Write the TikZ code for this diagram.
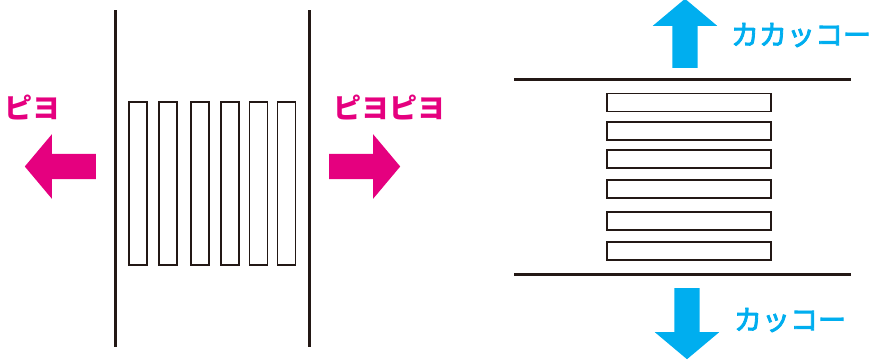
\documentclass[tikz,border=0pt]{standalone}
\usepackage{fontspec}
\newfontfamily\jpfont{Noto Sans CJK JP}
\newfontfamily\jpmid[FakeBold=3]{Noto Sans CJK JP}
\usetikzlibrary{shapes.arrows}
\definecolor{piyo}{HTML}{E5007F}
\definecolor{kakko}{HTML}{00AEEF}
\definecolor{ink}{HTML}{231815}

\begin{document}
\begin{tikzpicture}[x=1pt,y=-1pt,
  wall/.style={ink,line width=3pt},
  slat/.style={draw=ink,line width=1.3pt,fill=white,inner sep=0pt},
  blockarrow/.style={single arrow,draw=none,inner xsep=0pt,inner ysep=12.5pt,anchor=tail,
    minimum height=71pt,
    single arrow head extend=19.5pt,single arrow tip angle=100},
  uparrow/.style={blockarrow,inner xsep=12.5pt,inner ysep=0pt},
  piyotext/.style={text=piyo,inner sep=0pt,font=\jpfont\bfseries\fontsize{28}{28}\selectfont},
  kakkotext/.style={text=kakko,inner sep=0pt,font=\jpmid\fontsize{28}{28}\selectfont}]
\useasboundingbox (0,0) rectangle (874,360);

% left: vertical walls
\draw[wall] (115,10) -- (115,347);
\draw[wall] (309,10) -- (309,347);
\foreach \x [count=\i] in {138,168,200,230,258.5,286.5}
  \node[slat,minimum width=18pt,minimum height=163pt] (v\i) at (\x,183.5) {};

\node[blockarrow,fill=piyo,shape border rotate=180] (piyoL) at (96,166.5) {};
\node[blockarrow,fill=piyo] (piyoR) at (329,166.5) {};
\node[piyotext] (labL) at (33,107) {ピヨ};
\node[piyotext] (labR) at (389,107) {ピヨピヨ};

% right: horizontal walls
\draw[wall] (514,79) -- (851,79);
\draw[wall] (514,274) -- (851,274);
\foreach \y [count=\i] in {102.5,131,159,189,221,251}
  \node[slat,minimum width=164pt,minimum height=18pt] (h\i) at (689,\y) {};

\node[uparrow,fill=kakko,shape border rotate=90,minimum height=69pt] (kakkoU) at (685,68) {};
\node[uparrow,fill=kakko,shape border rotate=270] (kakkoD) at (687,288) {};
\node[kakkotext] (labU) at (801,35) {カカッコー};
\node[kakkotext] (labD) at (790,320) {カッコー};

\end{tikzpicture}
\end{document}
